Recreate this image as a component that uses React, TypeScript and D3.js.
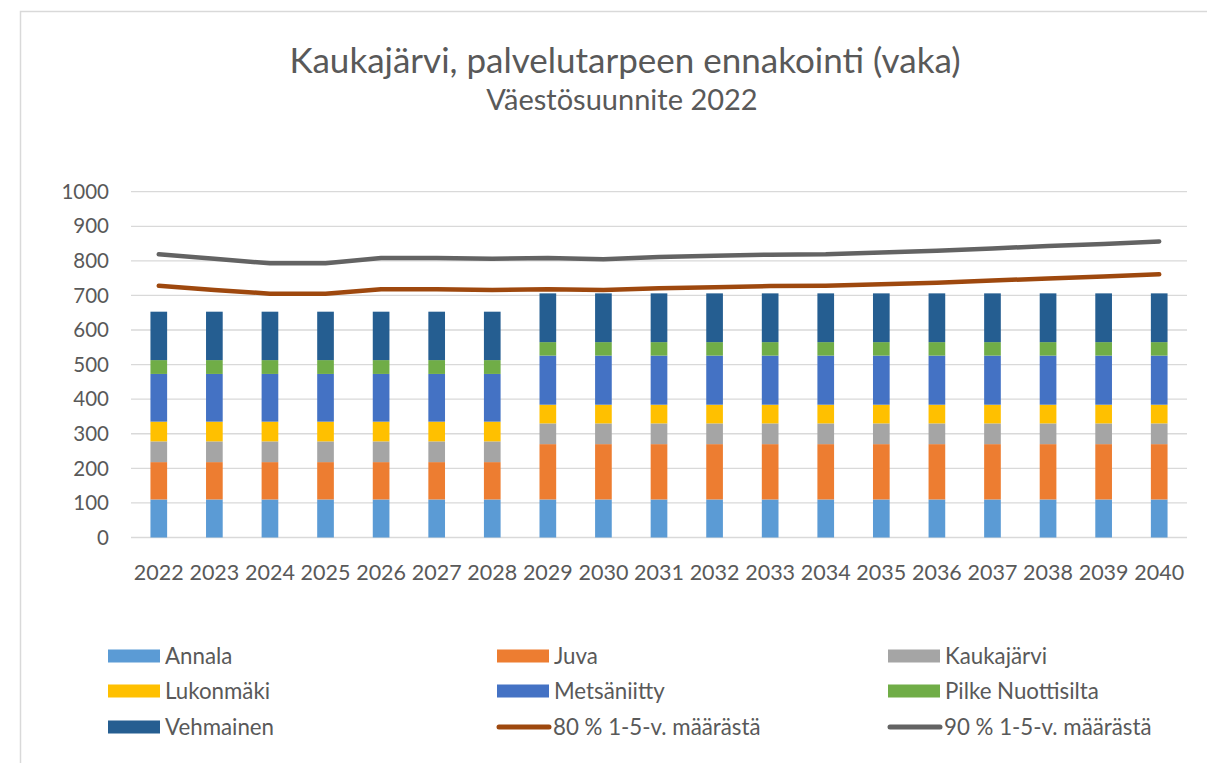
import React from "react";
import * as d3 from "d3";

const years = ["2022","2023","2024","2025","2026","2027","2028","2029","2030","2031","2032","2033","2034","2035","2036","2037","2038","2039","2040"];
const annala =      [110,110,110,110,110,110,110,110,110,110,110,110,110,110,110,110,110,110,110];
const juva =        [108,108,108,108,108,108,108,160,160,160,160,160,160,160,160,160,160,160,160];
const kaukajarvi =  [60,60,60,60,60,60,60,60,60,60,60,60,60,60,60,60,60,60,60];
const lukonmaki =   [57,57,57,57,57,57,57,54,54,54,54,54,54,54,54,54,54,54,54];
const metsaniitty = [138,138,138,138,138,138,138,142,142,142,142,142,142,142,142,142,142,142,142];
const pilke =       [40,40,40,40,40,40,40,39,39,39,39,39,39,39,39,39,39,39,39];
const vehmainen =   [140,140,140,140,140,140,140,141,141,141,141,141,141,141,141,141,141,141,141];
const line80 = [728,716,705,705,718,718,716,718,716,721,724,727,728,732,737,743,749,755,761];
const line90 = [819,806,793,793,808,808,806,808,805,811,815,818,819,824,829,836,843,849,856];
const yTicks = [0,100,200,300,400,500,600,700,800,900,1000];

const barSeries = [
  { name: "Annala", values: annala, color: "#5B9BD5" },
  { name: "Juva", values: juva, color: "#ED7D31" },
  { name: "Kaukajärvi", values: kaukajarvi, color: "#A5A5A5" },
  { name: "Lukonmäki", values: lukonmaki, color: "#FFC000" },
  { name: "Metsäniitty", values: metsaniitty, color: "#4472C4" },
  { name: "Pilke Nuottisilta", values: pilke, color: "#70AD47" },
  { name: "Vehmainen", values: vehmainen, color: "#255E91" },
];
const lineSeries = [
  { name: "80 % 1-5-v. määrästä", values: line80, color: "#9E480E" },
  { name: "90 % 1-5-v. määrästä", values: line90, color: "#636363" },
];

const FONT = "Lato, 'Open Sans', sans-serif";
const TXT = "#595959";

export default function App() {
  const W = 1207, H = 763;
  const plot = { left: 131, right: 1187, top: 191.7, bottom: 537.5 };
  const x = d3.scaleBand<string>().domain(years).range([plot.left, plot.right]).paddingInner(0.7).paddingOuter(0.35);
  const xc = (y: string) => (x(y) as number) + x.bandwidth() / 2;
  const y = d3.scaleLinear().domain([0, 1000]).range([plot.bottom, plot.top]);

  const table = years.map((yr, i) => {
    const row: any = { year: yr };
    barSeries.forEach((s) => (row[s.name] = s.values[i]));
    return row;
  });
  const stacked = d3.stack<any>().keys(barSeries.map((s) => s.name))(table);

  const lineGen = d3.line<number>().x((_, i) => xc(years[i])).y((v) => y(v));

  const legendItems = [...barSeries.map((s) => ({ ...s, kind: "bar" })), ...lineSeries.map((s) => ({ ...s, kind: "line" }))];
  const colX = [108, 497, 888];
  const rowY = [656, 691, 727];

  return (
    <svg width={W} height={H} style={{ position: "absolute", left: 0, top: 0, background: "#fff" }} fontFamily={FONT}>
      <rect x={0} y={0} width={W} height={H} fill="#fff" />
      <rect x={20.5} y={11.5} width={1400} height={900} fill="none" stroke="#D9D9D9" strokeWidth={1.5} />
      <text x={625} y={73} textAnchor="middle" fontSize={35} fill={TXT}>Kaukajärvi, palvelutarpeen ennakointi (vaka)</text>
      <text x={622} y={110} textAnchor="middle" fontSize={29} fill={TXT}>Väestösuunnite 2022</text>

      {yTicks.map((t) => (
        <g key={t}>
          <line x1={plot.left} x2={plot.right} y1={y(t)} y2={y(t)} stroke="#D9D9D9" strokeWidth={1.3} />
          <text x={109} y={y(t)} dy="0.35em" textAnchor="end" fontSize={20.5} fill={TXT}>{t}</text>
        </g>
      ))}

      {stacked.map((layer, li) => (
        <g key={layer.key} fill={barSeries[li].color}>
          {layer.map((d, i) => (
            <rect key={i} x={x(years[i])} y={y(d[1])} width={x.bandwidth()} height={y(d[0]) - y(d[1])} />
          ))}
        </g>
      ))}

      {lineSeries.map((s) => (
        <path key={s.name} d={lineGen(s.values) || ""} fill="none" stroke={s.color} strokeWidth={4.5} strokeLinecap="round" strokeLinejoin="round" />
      ))}

      {years.map((yr) => (
        <text key={yr} x={xc(yr)} y={572} dy="0.35em" textAnchor="middle" fontSize={21.5} fill={TXT}>{yr}</text>
      ))}

      {legendItems.map((it, i) => {
        const cx = colX[i % 3];
        const cy = rowY[Math.floor(i / 3)];
        return (
          <g key={it.name}>
            {it.kind === "bar" ? (
              <rect x={cx} y={cy - 6.5} width={52} height={13} fill={it.color} />
            ) : (
              <line x1={cx + 2} x2={cx + 52} y1={cy} y2={cy} stroke={it.color} strokeWidth={5} strokeLinecap="round" />
            )}
            <text x={cx + (it.kind === "bar" ? 57 : 56)} y={cy} dy="0.35em" fontSize={22.3} fill={TXT}>{it.name}</text>
          </g>
        );
      })}
    </svg>
  );
}
